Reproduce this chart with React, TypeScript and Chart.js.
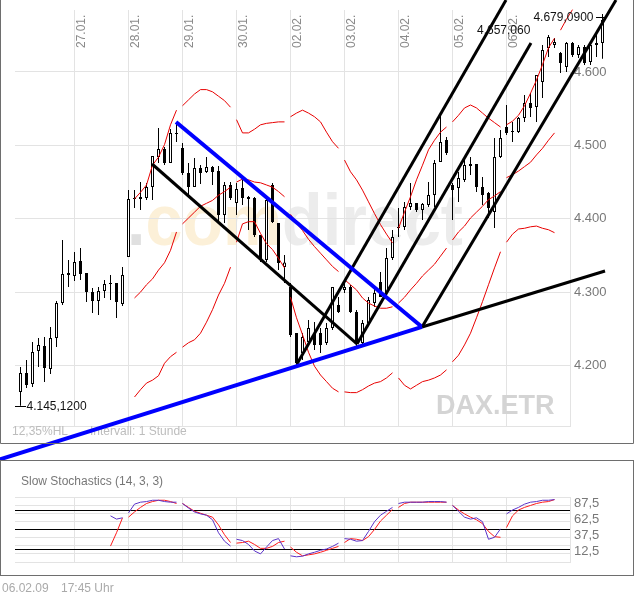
import React, { useEffect, useRef } from 'react';
import { Chart, registerables } from 'chart.js';

Chart.register(...registerables);

const FONT = 'Arial, "Liberation Sans", Helvetica, sans-serif';
const _ = null;

// ---- axes / labels ----
const dateTicks = [9, 18, 27, 36, 45, 54, 63, 72, 81];
const dateLabels = ['27.01.', '28.01.', '29.01.', '30.01.', '02.02.', '03.02.', '04.02.', '05.02.', '06.02.'];
const sessionBreaks = [9, 18, 27, 36, 45, 54, 63, 72, 81, 90];
const priceTicks = [4200, 4300, 4400, 4500, 4600];
const stochTicks = [0, 12.5, 20, 25, 37.5, 50, 62.5, 75, 80, 87.5, 100];
const stochLabelled = [87.5, 62.5, 37.5, 12.5];
const stochLevels = [80, 50, 20];

// ---- hourly candles ----
const opens = [
  4163.9, 4189.8, 4174.8, 4219.8, 4226.6, 4195.2, 4237.5, 4285.2, 4323.3,
  4322.0, 4342.4, 4326.1, 4300.2, 4287.9, 4301.6, 4312.4, 4312.4, 4283.8,
  4347.9, 4426.9, 4426.9, 4428.3, 4443.3, 4484.2, 4495.1, 4476.0, 4515.5,
  4496.4, 4462.3, 4443.3, 4469.2, 4463.7, 4470.5, 4465.1, 4405.1, 4446.0,
  4421.5, 4441.9, 4426.9, 4428.3, 4377.9, 4343.8, 4446.0, 4394.2, 4334.2,
  4307.0, 4244.3, 4217.0, 4232.0, 4244.3, 4244.3, 4230.6, 4251.1, 4282.4,
  4302.9, 4307.0, 4272.9, 4230.6, 4257.9, 4285.2, 4313.8, 4298.8, 4346.5,
  4387.4, 4388.8, 4416.0, 4421.5, 4411.9, 4418.7, 4432.4, 4477.3, 4507.3,
  4446.0, 4441.9, 4452.8, 4474.6, 4474.6, 4443.3, 4435.1, 4409.2, 4484.2,
  4525.0, 4518.2, 4518.2, 4537.3, 4557.8, 4552.3, 4586.4, 4632.7, 4636.8,
  4625.9, 4606.8, 4639.5, 4623.2, 4634.1, 4613.6, 4636.8, 4639.5,
];
const highs = [
  4197.9, 4207.5, 4232.0, 4237.5, 4238.8, 4252.5, 4287.9, 4371.0, 4343.8,
  4354.7, 4360.1, 4326.1, 4305.6, 4306.9, 4316.5, 4323.3, 4312.4, 4334.2,
  4439.2, 4439.2, 4450.1, 4448.7, 4485.5, 4523.7, 4497.8, 4522.3, 4531.9,
  4503.2, 4476.0, 4482.8, 4473.2, 4484.2, 4471.9, 4471.9, 4450.1, 4450.1,
  4448.7, 4452.8, 4431.0, 4429.6, 4377.9, 4428.3, 4448.7, 4394.2, 4350.6,
  4312.4, 4244.3, 4244.3, 4262.0, 4259.3, 4251.1, 4258.0, 4307.0, 4293.3,
  4312.4, 4309.7, 4275.6, 4262.0, 4293.3, 4307.0, 4327.4, 4360.1, 4384.7,
  4414.6, 4422.8, 4448.7, 4421.5, 4421.5, 4450.1, 4480.1, 4544.1, 4511.4,
  4448.7, 4463.7, 4484.2, 4484.2, 4474.6, 4456.9, 4436.5, 4510.0, 4521.0,
  4555.0, 4531.9, 4538.7, 4568.7, 4571.4, 4595.9, 4636.8, 4650.4, 4646.3,
  4627.3, 4640.9, 4640.9, 4636.8, 4636.8, 4639.5, 4653.2, 4679.09,
];
const lows = [
  4145.12, 4169.3, 4170.7, 4197.9, 4177.5, 4188.4, 4225.2, 4282.4, 4306.9,
  4315.2, 4316.5, 4286.5, 4271.5, 4268.8, 4292.0, 4289.3, 4264.7, 4281.1,
  4347.9, 4414.6, 4411.9, 4425.5, 4425.5, 4476.0, 4473.2, 4476.0, 4504.6,
  4459.6, 4432.4, 4443.3, 4447.4, 4462.3, 4446.0, 4394.2, 4394.2, 4425.5,
  4405.1, 4418.7, 4384.7, 4375.1, 4341.1, 4341.1, 4394.2, 4330.1, 4312.4,
  4238.8, 4199.3, 4207.5, 4230.6, 4221.1, 4217.0, 4227.9, 4248.4, 4271.5,
  4298.8, 4271.5, 4225.2, 4227.9, 4257.9, 4279.7, 4293.3, 4296.1, 4343.8,
  4375.1, 4384.7, 4411.9, 4409.2, 4398.3, 4416.0, 4416.0, 4477.3, 4486.9,
  4398.3, 4422.8, 4450.1, 4459.6, 4436.5, 4418.7, 4401.0, 4387.4, 4482.8,
  4514.1, 4504.6, 4516.9, 4531.9, 4538.7, 4531.9, 4564.6, 4620.4, 4632.7,
  4598.6, 4600.0, 4620.4, 4619.1, 4609.5, 4609.5, 4620.4, 4618.2,
];
const closes = [
  4189.8, 4173.4, 4218.4, 4227.9, 4196.6, 4237.5, 4285.2, 4324.7, 4326.1,
  4341.1, 4324.7, 4300.2, 4287.9, 4301.6, 4311.1, 4311.1, 4286.5, 4323.3,
  4426.9, 4428.3, 4429.6, 4443.3, 4485.5, 4495.1, 4476.0, 4516.9, 4516.9,
  4462.3, 4443.3, 4469.2, 4462.3, 4470.5, 4463.7, 4405.1, 4446.0, 4428.3,
  4440.5, 4428.3, 4429.6, 4377.9, 4343.8, 4425.5, 4395.6, 4339.7, 4340.5,
  4241.5, 4203.4, 4238.8, 4251.1, 4227.9, 4227.9, 4251.1, 4307.0, 4272.9,
  4307.0, 4272.9, 4230.6, 4257.9, 4289.3, 4298.8, 4293.3, 4346.5, 4375.1,
  4388.8, 4416.0, 4421.5, 4411.9, 4420.1, 4432.4, 4476.0, 4504.6, 4489.6,
  4439.2, 4455.5, 4473.2, 4471.9, 4443.3, 4432.4, 4414.6, 4484.2, 4510.0,
  4516.9, 4519.6, 4537.3, 4557.8, 4550.9, 4595.9, 4630.0, 4647.7, 4640.9,
  4612.3, 4639.5, 4623.2, 4634.1, 4612.3, 4636.8, 4639.5, 4670.9,
];

// ---- Bollinger bands ----
const bbUpper = [
  _, _, _, _, _, _, _, _, _, _, _, _, _, _, _, _, _, _, _,
  4427, 4436, 4446, 4473, 4484, 4501, 4528, 4548,
  4554, 4562, 4570, 4576, 4576, 4573, 4567, 4561, 4552,
  4535, 4517, 4517, 4522, 4528, 4530, 4531, 4532, 4532,
  4539, 4544, 4548, 4544, 4539, 4532, 4518, 4505, 4496,
  4480, 4464, 4453, 4439, 4423, 4407, 4392, 4379, 4367,
  4387, 4409, 4430, 4453, 4473, 4494, 4507, 4518, 4525,
  4532, 4541, 4551, 4555, 4551, 4544, 4537, 4531, 4525,
  4528, 4533, 4541, 4554, 4571, 4589, 4610, 4633, 4646,
  4657, 4672, 4685, _, _, _, _, _,
];
const bbMiddle = [
  _, _, _, _, _, _, _, _, _, _, _, _, _, _, _, _, _, _, _,
  4292, 4300, 4310, 4318, 4330, 4340, 4357, 4382,
  4393, 4401, 4409, 4417, 4421, 4425, 4432, 4437, 4443,
  4450, 4454, 4453, 4450, 4449, 4446, 4443, 4437, 4430,
  4406, 4394, 4384, 4372, 4362, 4353, 4344, 4335, 4328,
  4317, 4310, 4303, 4292, 4285, 4281, 4278, 4278, 4280,
  4285, 4293, 4303, 4312, 4322, 4330, 4338, 4349, 4360,
  4371, 4382, 4390, 4401, 4409, 4417, 4426, 4431, 4437,
  4456, 4460, 4465, 4471, 4477, 4487, 4496, 4507, 4517,
  _, _, _, _, _, _, _, _,
];
const bbLower = [
  _, _, _, _, _, _, _, _, _, _, _, _, _, _, _, _, _, _, _,
  4157, 4167, 4176, 4180, 4186, 4203, 4212, 4218,
  4225, 4231, 4235, 4244, 4259, 4276, 4296, 4312, 4334,
  4368, 4393, 4396, 4396, 4380, 4366, 4358, 4346, 4333,
  4293, 4265, 4242, 4218, 4199, 4187, 4178, 4169, 4164,
  4164, 4163, 4163, 4167, 4172, 4176, 4178, 4183, 4190,
  4183, 4173, 4168, 4173, 4178, 4180, 4183, 4187, 4194,
  4205, 4214, 4228, 4244, 4265, 4287, 4310, 4333, 4355,
  4368, 4379, 4386, 4387, 4389, 4390, 4387, 4385, 4381,
  _, _, _, _, _, _, _, _,
];

// ---- Slow stochastics (14,3,3) ----
const stochK = [
  _, _, _, _, _, _, _, _, _, _, _, _, _, _, _,
  71, 66, 68,
  75.5, 89, 92, 93, 95, 95, 93, 92, 92,
  90, 83, 77, 74, 72, 65, 45, 32, 24.5,
  35, 33, 27, 17, 12.5, 23, 33, 36, 20,
  9.5, 8, 9, 12.5, 15, 18, 20, 24, 29,
  36, 35, 32, 33, 47, 62, 72, 78, 84,
  90, 92, 92, 92, 92, 93, 93, 93, 92,
  87, 78, 69, 66, 68, 62, 35, 38, 51,
  74, 80, 84, 89, 92, 93, 95, 95, 96,
  _, _, _, _, _, _, _, _,
];
const stochD = [
  _, _, _, _, _, _, _, _, _, _, _, _, _, _, _,
  24.5, 45, 68,
  69, 77, 84, 90, 93, 95, 95, 93, 90,
  90, 84, 78, 75, 72, 69, 57, 42, 30,
  29, 30, 32, 27, 21, 21, 24, 30, 32,
  23, 15, 9.5, 11, 12.5, 15, 18, 21, 24,
  30, 36, 35, 33, 39, 50, 63, 72, 81,
  84, 90, 92, 92, 92, 92, 92, 92, 92,
  87, 80, 74, 69, 65, 59, 47, 39, 38,
  53, 71, 80, 84, 87, 90, 92, 93, 96,
  _, _, _, _, _, _, _, _,
];

// ---- drawn trend lines: [candle index, price] ----
const supportLine = [[-3.42, 4072.0], [66.92, 4252.5]];
const supportExtension = [[66.92, 4252.5], [97.42, 4328.8]];
const resistanceLine = [[25.92, 4531.9], [66.92, 4252.5]];
const downChannel = [[21.92, 4474.6], [56.08, 4229.3]];
const upChannel1 = [[46.08, 4202.0], [80.92, 4698.1]];
const upChannel2 = [[56.08, 4229.3], [85.08, 4639.5]];
const upChannel3 = [[66.92, 4252.5], [99.25, 4698.1]];

// ---- annotations ----
const lowLabel = '4.145,1200';
const highLabel = '4.679,0900';
const priorHighLabel = '4.657,060';
const priorHighValue = 4657.06;

const X_MIN = -0.9167;
const X_MAX = 91.5833;
const Y_MIN = 4117.5;
const Y_MAX = 4684.5;
const GRID = '#e3e3e3';

const idx = opens.map((_v, i) => i);
const toPts = (arr: (number | null)[]) => arr.map((v, i) => ({ x: i, y: v }));
const linePts = (pts: number[][]) => pts.map(([x, y]) => ({ x, y }));
const breakSeg = (ctx: any) => (sessionBreaks.includes(ctx.p1DataIndex) ? 'rgba(0,0,0,0)' : undefined);

const trend = (pts: number[][], color: string, width: number) => ({
  type: 'line' as const,
  data: linePts(pts),
  borderColor: color,
  borderWidth: width,
  pointRadius: 0,
  fill: false,
  tension: 0,
  clip: false as const,
  order: 0,
});

const band = (arr: (number | null)[]) => ({
  type: 'line' as const,
  data: toPts(arr),
  borderColor: '#e80000',
  borderWidth: 1,
  pointRadius: 0,
  fill: false,
  tension: 0,
  spanGaps: false,
  clip: { left: 0, top: 2, right: 8, bottom: 0 } as any,
  segment: { borderColor: breakSeg },
  order: 1,
});

const mainDecor = {
  id: 'mainDecor',
  beforeDraw(chart: any) {
    const { ctx } = chart;
    ctx.save();
    ctx.font = `bold 72px ${FONT}`;
    ctx.textBaseline = 'alphabetic';
    ctx.textAlign = 'left';
    const parts: [string, string][] = [['.', '#e0e0e0'], ['com', '#fcf0d8'], ['direct', '#ececec']];
    const full = parts.map((p) => p[0]).join('');
    const w = ctx.measureText(full).width;
    ctx.translate(127, 245);
    ctx.scale(336 / w, 1);
    let x = 0;
    for (const [t, c] of parts) {
      ctx.fillStyle = c;
      ctx.fillText(t, x, 0);
      x += ctx.measureText(t).width;
    }
    ctx.restore();
  },
  beforeDatasetsDraw(chart: any) {
    const { ctx, chartArea } = chart;
    const xs = chart.scales.x;
    const ys = chart.scales.y;
    ctx.save();
    // right plot border from the top price gridline down
    ctx.strokeStyle = GRID;
    ctx.lineWidth = 1;
    ctx.beginPath();
    ctx.moveTo(Math.round(chartArea.right) + 0.5, Math.round(ys.getPixelForValue(priceTicks[priceTicks.length - 1])));
    ctx.lineTo(Math.round(chartArea.right) + 0.5, chartArea.bottom);
    ctx.stroke();
    // date labels, rotated
    ctx.font = `12px ${FONT}`;
    ctx.fillStyle = '#8a8a8a';
    ctx.textAlign = 'left';
    ctx.textBaseline = 'alphabetic';
    dateTicks.forEach((t, k) => {
      const gx = xs.getPixelForValue(t);
      ctx.save();
      ctx.translate(gx + 10, 48);
      ctx.rotate(-Math.PI / 2);
      ctx.fillText(dateLabels[k], 0, 0);
      ctx.restore();
    });
    // footer texts
    ctx.fillStyle = '#bdbdbd';
    ctx.textBaseline = 'middle';
    ctx.fillText('12,35%HL', 12, 432);
    ctx.fillText('Intervall: 1 Stunde', 90, 432);
    ctx.font = `bold 27px ${FONT}`;
    ctx.fillStyle = '#d4d4d4';
    ctx.textBaseline = 'alphabetic';
    ctx.fillText('DAX.ETR', 436, 413.5);
    ctx.restore();
  },
  afterDraw(chart: any) {
    const { ctx } = chart;
    const xs = chart.scales.x;
    const ys = chart.scales.y;
    ctx.save();
    // low / high markers
    ctx.strokeStyle = '#000';
    ctx.lineWidth = 1;
    const x0 = xs.getPixelForValue(0);
    const yl = Math.round(ys.getPixelForValue(lows[0])) + 0.5;
    ctx.beginPath();
    ctx.moveTo(x0 - 5.5, yl);
    ctx.lineTo(x0 + 5.5, yl);
    const last = highs.length - 1;
    const xh = xs.getPixelForValue(last);
    const yh = Math.round(ys.getPixelForValue(highs[last])) + 3.5;
    ctx.moveTo(xh - 6.5, yh);
    ctx.lineTo(xh + 4.5, yh);
    ctx.stroke();
    ctx.font = `12px ${FONT}`;
    ctx.fillStyle = '#111';
    ctx.textBaseline = 'middle';
    ctx.textAlign = 'left';
    ctx.fillText(lowLabel, x0 + 6, yl);
    ctx.textAlign = 'right';
    ctx.fillText(highLabel, xh - 9, yh);
    ctx.textAlign = 'left';
    ctx.fillText(priorHighLabel, 477, ys.getPixelForValue(priorHighValue) + 1);
    // frame
    ctx.strokeStyle = '#6e6e6e';
    ctx.beginPath();
    ctx.moveTo(0.5, 0);
    ctx.lineTo(0.5, 443.5);
    ctx.lineTo(633.5, 443.5);
    ctx.lineTo(633.5, 0);
    ctx.stroke();
    ctx.restore();
  },
};

const stochDecor = {
  id: 'stochDecor',
  afterDraw(chart: any) {
    const { ctx } = chart;
    ctx.save();
    ctx.strokeStyle = '#6e6e6e';
    ctx.lineWidth = 1;
    ctx.strokeRect(0.5, 10.5, 633, 115);
    ctx.font = `12px ${FONT}`;
    ctx.textBaseline = 'middle';
    ctx.textAlign = 'left';
    ctx.fillStyle = '#777';
    ctx.fillText('Slow Stochastics (14, 3, 3)', 21, 32);
    ctx.fillStyle = '#aaa';
    ctx.fillText('06.02.09', 2, 139);
    ctx.fillText('17:45 Uhr', 61, 139);
    ctx.restore();
  },
};

const zeroPad = (s: any) => {
  s.paddingTop = 0;
  s.paddingBottom = 0;
  s.paddingLeft = 0;
  s.paddingRight = 0;
};

function xScale() {
  return {
    type: 'linear' as const,
    min: X_MIN,
    max: X_MAX,
    offset: false,
    grid: { color: GRID, drawTicks: false, offset: false },
    border: { display: true, color: GRID },
    ticks: { display: false },
    afterBuildTicks: (s: any) => {
      s.ticks = dateTicks.map((v) => ({ value: v }));
    },
    afterFit: (s: any) => {
      s.height = 0;
      zeroPad(s);
    },
  };
}

export default function App() {
  const mainRef = useRef<HTMLCanvasElement>(null);
  const stochRef = useRef<HTMLCanvasElement>(null);

  useEffect(() => {
    document.body.style.margin = '0';
    Chart.defaults.font.family = FONT;

    const main = new Chart(mainRef.current as HTMLCanvasElement, {
      type: 'bar',
      data: {
        datasets: [
          trend(supportLine, '#0000ff', 4) as any,
          trend(supportExtension, '#000000', 3),
          trend(resistanceLine, '#0000ff', 4),
          trend(downChannel, '#000000', 3),
          trend(upChannel1, '#000000', 3),
          trend(upChannel2, '#000000', 3),
          trend(upChannel3, '#000000', 3),
          band(bbUpper),
          band(bbMiddle),
          band(bbLower),
          {
            type: 'bar',
            data: idx.map((i) => ({ x: i, y: [opens[i], closes[i]] })),
            backgroundColor: idx.map((i) => (closes[i] >= opens[i] ? '#ffffff' : '#000000')),
            borderColor: '#000000',
            borderWidth: 1,
            borderSkipped: false,
            barThickness: 3,
            minBarLength: 1,
            inflateAmount: 0,
            grouped: false,
            clip: false,
            order: 2,
          },
          {
            type: 'bar',
            data: idx.map((i) => ({ x: i, y: [lows[i], highs[i]] })),
            backgroundColor: '#000000',
            borderWidth: 0,
            barThickness: 1,
            inflateAmount: 0,
            grouped: false,
            clip: false,
            order: 3,
          },
        ],
      } as any,
      options: {
        animation: false,
        responsive: false,
        maintainAspectRatio: false,
        events: [],
        layout: { padding: { left: 15, top: 10, right: 0, bottom: 44 } },
        plugins: { legend: { display: false }, tooltip: { enabled: false } },
        scales: {
          x: xScale(),
          y: {
            type: 'linear',
            position: 'right',
            min: Y_MIN,
            max: Y_MAX,
            beginAtZero: false,
            grid: { color: GRID, drawTicks: false },
            border: { display: false },
            ticks: {
              padding: 4,
              color: '#787878',
              autoSkip: false,
              font: { size: 13, family: FONT },
              callback: (v: any) => (Number(v) / 1000).toFixed(3),
            },
            afterBuildTicks: (s: any) => {
              s.ticks = priceTicks.map((v) => ({ value: v }));
            },
            afterFit: (s: any) => {
              s.width = 64;
              zeroPad(s);
            },
          },
        } as any,
      },
      plugins: [mainDecor],
    });

    const stoch = new Chart(stochRef.current as HTMLCanvasElement, {
      type: 'line',
      data: {
        datasets: [
          {
            data: toPts(stochK),
            borderColor: '#5a32c8',
            borderWidth: 1,
            pointRadius: 0,
            tension: 0,
            spanGaps: false,
            segment: { borderColor: breakSeg },
            order: 0,
          },
          {
            data: toPts(stochD),
            borderColor: '#ff1a1a',
            borderWidth: 1,
            pointRadius: 0,
            tension: 0,
            spanGaps: false,
            segment: { borderColor: breakSeg },
            order: 1,
          },
        ],
      } as any,
      options: {
        animation: false,
        responsive: false,
        maintainAspectRatio: false,
        events: [],
        layout: { padding: { left: 15, top: 47, right: 0, bottom: 35 } },
        plugins: { legend: { display: false }, tooltip: { enabled: false } },
        scales: {
          x: xScale(),
          y: {
            type: 'linear',
            position: 'right',
            min: 0,
            max: 100,
            grid: {
              drawTicks: false,
              color: (c: any) => (c.tick && stochLevels.includes(c.tick.value) ? '#000000' : GRID),
            },
            border: { display: true, color: GRID },
            ticks: {
              padding: 4,
              color: '#787878',
              autoSkip: false,
              labelOffset: -2,
              font: { size: 13, family: FONT },
              callback: (v: any) => (stochLabelled.includes(Number(v)) ? String(v).replace('.', ',') : ''),
            },
            afterBuildTicks: (s: any) => {
              s.ticks = stochTicks.map((v) => ({ value: v }));
            },
            afterFit: (s: any) => {
              s.width = 64;
              zeroPad(s);
            },
          },
        } as any,
      },
      plugins: [stochDecor],
    });

    return () => {
      main.destroy();
      stoch.destroy();
    };
  }, []);

  return (
    <div style={{ position: 'relative', width: 634, height: 597, background: '#ffffff', overflow: 'hidden' }}>
      <canvas ref={mainRef} width={634} height={470} style={{ position: 'absolute', left: 0, top: 0 }} />
      <canvas ref={stochRef} width={634} height={147} style={{ position: 'absolute', left: 0, top: 450 }} />
    </div>
  );
}
